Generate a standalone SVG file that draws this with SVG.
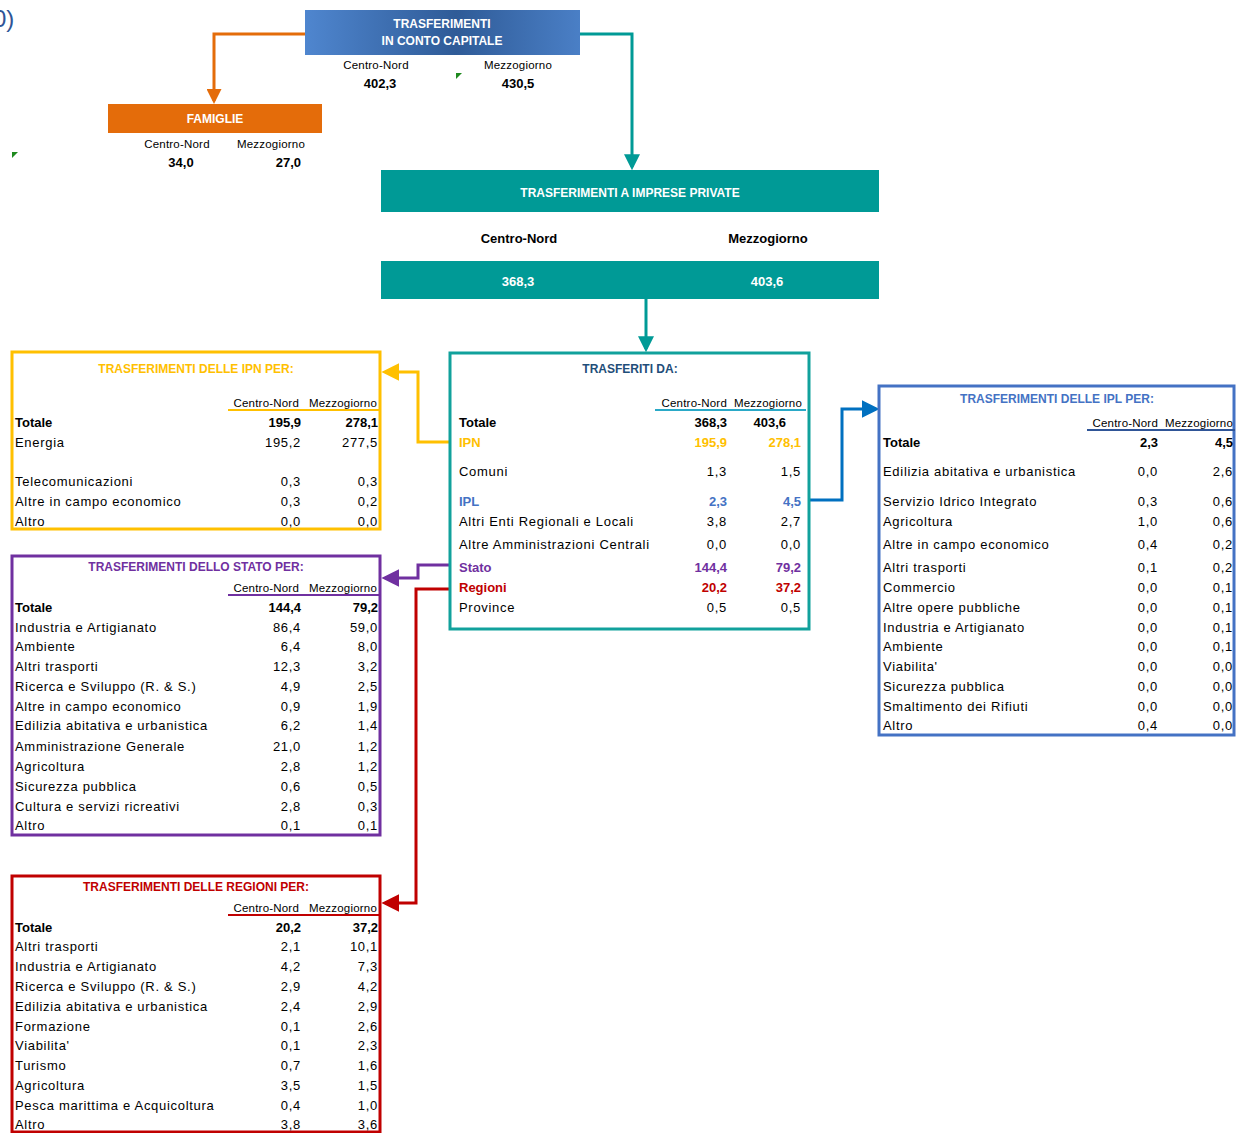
<svg xmlns="http://www.w3.org/2000/svg" width="1236" height="1133" viewBox="0 0 1236 1133">
<defs>
<style>
text{font-family:"Liberation Sans",Arial,sans-serif;font-size:13px;fill:#000;letter-spacing:0.7px}
.b{font-weight:bold;letter-spacing:0}
.w{fill:#fff;font-weight:bold;font-size:12px;letter-spacing:0}
.h{font-size:11.5px;letter-spacing:0.2px}
.r{text-anchor:end}
.c{text-anchor:middle}
.t{font-weight:bold;font-size:12px;text-anchor:middle;letter-spacing:0}
.yel{fill:#ffc000}
.pur{fill:#7030a0}
.red{fill:#c00000}
.blu{fill:#4472c4}
.nav{fill:#1f4e79}
.conn{fill:none;stroke-width:3;stroke-linejoin:miter}
.box{fill:#fff;stroke-width:3}
</style>
<linearGradient id="gblue" x1="0" y1="0" x2="1" y2="0">
<stop offset="0" stop-color="#4f86cf"/>
<stop offset="0.55" stop-color="#2f5b97"/>
<stop offset="1" stop-color="#4a7fc6"/>
</linearGradient>
<marker id="mo" viewBox="0 0 10 10" refX="8" refY="5" markerWidth="15" markerHeight="15" markerUnits="userSpaceOnUse" orient="auto"><path d="M0,0L10,5L0,10z" fill="#e46c0a"/></marker>
<marker id="mt" viewBox="0 0 10 10" refX="8" refY="5" markerWidth="16" markerHeight="16" markerUnits="userSpaceOnUse" orient="auto"><path d="M0,0L10,5L0,10z" fill="#009a96"/></marker>
<marker id="my" viewBox="0 0 10 10" refX="8" refY="5" markerWidth="18" markerHeight="18" markerUnits="userSpaceOnUse" orient="auto"><path d="M0,0L10,5L0,10z" fill="#ffc000"/></marker>
<marker id="mp" viewBox="0 0 10 10" refX="8" refY="5" markerWidth="18" markerHeight="18" markerUnits="userSpaceOnUse" orient="auto"><path d="M0,0L10,5L0,10z" fill="#7030a0"/></marker>
<marker id="mr" viewBox="0 0 10 10" refX="8" refY="5" markerWidth="18" markerHeight="18" markerUnits="userSpaceOnUse" orient="auto"><path d="M0,0L10,5L0,10z" fill="#c00000"/></marker>
<marker id="mb" viewBox="0 0 10 10" refX="8" refY="5" markerWidth="18" markerHeight="18" markerUnits="userSpaceOnUse" orient="auto"><path d="M0,0L10,5L0,10z" fill="#0070c0"/></marker>
</defs>
<rect width="1236" height="1133" fill="#fff"/>
<text x="-7" y="27" style="font-size:24px;fill:#2f5597;letter-spacing:0">0)</text>
<polygon points="456,73 462,73 456,79" fill="#1e8a1e"/>
<polygon points="12,152 18,152 12,158" fill="#1e8a1e"/>

<g id="connectors">
<path class="conn" stroke="#e46c0a" d="M305,34H214V101" marker-end="url(#mo)"/>
<path class="conn" stroke="#009a96" d="M580,34H632V167" marker-end="url(#mt)"/>
<path class="conn" stroke="#009a96" d="M646,299V349" marker-end="url(#mt)"/>
<path class="conn" stroke="#ffc000" d="M450,442H418V372H385" marker-end="url(#my)"/>
<path class="conn" stroke="#7030a0" d="M450,565H418V578H385" marker-end="url(#mp)"/>
<path class="conn" stroke="#c00000" d="M450,589H416V903H385" marker-end="url(#mr)"/>
<path class="conn" stroke="#0070c0" d="M809,500H842V409H876" marker-end="url(#mb)"/>
</g>

<g id="capitale">
<rect x="305" y="10" width="275" height="45" fill="url(#gblue)"/>
<text class="w c" x="442" y="28">TRASFERIMENTI</text>
<text class="w c" x="442" y="45">IN CONTO CAPITALE</text>
<text class="h c" x="376" y="69">Centro-Nord</text>
<text class="b c" x="380" y="88">402,3</text>
<text class="h c" x="518" y="69">Mezzogiorno</text>
<text class="b c" x="518" y="88">430,5</text>
</g>

<g id="famiglie">
<rect x="108" y="104" width="214" height="29" fill="#e46c0a"/>
<text class="w c" x="215" y="123">FAMIGLIE</text>
<text class="h c" x="177" y="148">Centro-Nord</text>
<text class="h c" x="271" y="148">Mezzogiorno</text>
<text class="b c" x="181" y="167">34,0</text>
<text class="b r" x="301" y="167">27,0</text>
</g>

<g id="imprese">
<rect x="381" y="170" width="498" height="42" fill="#009a96"/>
<text class="w c" x="630" y="197">TRASFERIMENTI A IMPRESE PRIVATE</text>
<text class="b c" x="519" y="243">Centro-Nord</text>
<text class="b c" x="768" y="243">Mezzogiorno</text>
<rect x="381" y="261" width="498" height="38" fill="#009a96"/>
<text class="w c" x="518" y="286" style="font-size:13px">368,3</text>
<text class="w c" x="767" y="286" style="font-size:13px">403,6</text>
</g>

<g id="trasferiti">
<rect class="box" x="450" y="353" width="359" height="276" stroke="#11a19c"/>
<text class="t nav" x="630" y="373">TRASFERITI DA:</text>
<text class="h r" x="727" y="407">Centro-Nord</text>
<text class="h r" x="802" y="407">Mezzogiorno</text>
<line x1="655" y1="410" x2="806" y2="410" stroke="#2aa9c7" stroke-width="2"/>
<text class="b" x="459" y="427">Totale</text><text class="b r" x="727" y="427">368,3</text><text class="b r" x="786" y="427">403,6</text>
<text class="b yel" x="459" y="447">IPN</text><text class="b r yel" x="727" y="447">195,9</text><text class="b r yel" x="801" y="447">278,1</text>
<text x="459" y="476">Comuni</text><text class="r" x="727" y="476">1,3</text><text class="r" x="801" y="476">1,5</text>
<text class="b blu" x="459" y="506">IPL</text><text class="b r blu" x="727" y="506">2,3</text><text class="b r blu" x="801" y="506">4,5</text>
<text x="459" y="526">Altri Enti Regionali e Locali</text><text class="r" x="727" y="526">3,8</text><text class="r" x="801" y="526">2,7</text>
<text x="459" y="549">Altre Amministrazioni Centrali</text><text class="r" x="727" y="549">0,0</text><text class="r" x="801" y="549">0,0</text>
<text class="b pur" x="459" y="572">Stato</text><text class="b r pur" x="727" y="572">144,4</text><text class="b r pur" x="801" y="572">79,2</text>
<text class="b red" x="459" y="592">Regioni</text><text class="b r red" x="727" y="592">20,2</text><text class="b r red" x="801" y="592">37,2</text>
<text x="459" y="612">Province</text><text class="r" x="727" y="612">0,5</text><text class="r" x="801" y="612">0,5</text>
</g>

<g id="ipn">
<rect class="box" x="12" y="352" width="368" height="177" stroke="#ffc000"/>
<text class="t yel" x="196" y="373">TRASFERIMENTI DELLE IPN PER:</text>
<text class="h r" x="299" y="407">Centro-Nord</text>
<text class="h r" x="377" y="407">Mezzogiorno</text>
<line x1="228" y1="410" x2="379" y2="410" stroke="#ffc000" stroke-width="2"/>
<text class="b" x="15" y="427">Totale</text><text class="b r" x="301" y="427">195,9</text><text class="b r" x="378" y="427">278,1</text>
<text x="15" y="447">Energia</text><text class="r" x="301" y="447">195,2</text><text class="r" x="378" y="447">277,5</text>
<text x="15" y="486">Telecomunicazioni</text><text class="r" x="301" y="486">0,3</text><text class="r" x="378" y="486">0,3</text>
<text x="15" y="506">Altre in campo economico</text><text class="r" x="301" y="506">0,3</text><text class="r" x="378" y="506">0,2</text>
<text x="15" y="526">Altro</text><text class="r" x="301" y="526">0,0</text><text class="r" x="378" y="526">0,0</text>
</g>

<g id="stato">
<rect class="box" x="12" y="556" width="368" height="279" stroke="#7030a0"/>
<text class="t pur" x="196" y="571">TRASFERIMENTI DELLO STATO PER:</text>
<text class="h r" x="299" y="592">Centro-Nord</text>
<text class="h r" x="377" y="592">Mezzogiorno</text>
<line x1="228" y1="595" x2="379" y2="595" stroke="#7030a0" stroke-width="2"/>
<text class="b" x="15" y="612">Totale</text><text class="b r" x="301" y="612">144,4</text><text class="b r" x="378" y="612">79,2</text>
<text x="15" y="632">Industria e Artigianato</text><text class="r" x="301" y="632">86,4</text><text class="r" x="378" y="632">59,0</text>
<text x="15" y="651">Ambiente</text><text class="r" x="301" y="651">6,4</text><text class="r" x="378" y="651">8,0</text>
<text x="15" y="671">Altri trasporti</text><text class="r" x="301" y="671">12,3</text><text class="r" x="378" y="671">3,2</text>
<text x="15" y="691">Ricerca e Sviluppo (R. &amp; S.)</text><text class="r" x="301" y="691">4,9</text><text class="r" x="378" y="691">2,5</text>
<text x="15" y="711">Altre in campo economico</text><text class="r" x="301" y="711">0,9</text><text class="r" x="378" y="711">1,9</text>
<text x="15" y="730">Edilizia abitativa e urbanistica</text><text class="r" x="301" y="730">6,2</text><text class="r" x="378" y="730">1,4</text>
<text x="15" y="751">Amministrazione Generale</text><text class="r" x="301" y="751">21,0</text><text class="r" x="378" y="751">1,2</text>
<text x="15" y="771">Agricoltura</text><text class="r" x="301" y="771">2,8</text><text class="r" x="378" y="771">1,2</text>
<text x="15" y="791">Sicurezza pubblica</text><text class="r" x="301" y="791">0,6</text><text class="r" x="378" y="791">0,5</text>
<text x="15" y="811">Cultura e servizi ricreativi</text><text class="r" x="301" y="811">2,8</text><text class="r" x="378" y="811">0,3</text>
<text x="15" y="830">Altro</text><text class="r" x="301" y="830">0,1</text><text class="r" x="378" y="830">0,1</text>
</g>

<g id="regioni">
<rect class="box" x="12" y="876" width="368" height="256" stroke="#c00000"/>
<text class="t red" x="196" y="891">TRASFERIMENTI DELLE REGIONI PER:</text>
<text class="h r" x="299" y="912">Centro-Nord</text>
<text class="h r" x="377" y="912">Mezzogiorno</text>
<line x1="228" y1="915" x2="379" y2="915" stroke="#c00000" stroke-width="2"/>
<text class="b" x="15" y="932">Totale</text><text class="b r" x="301" y="932">20,2</text><text class="b r" x="378" y="932">37,2</text>
<text x="15" y="951">Altri trasporti</text><text class="r" x="301" y="951">2,1</text><text class="r" x="378" y="951">10,1</text>
<text x="15" y="971">Industria e Artigianato</text><text class="r" x="301" y="971">4,2</text><text class="r" x="378" y="971">7,3</text>
<text x="15" y="991">Ricerca e Sviluppo (R. &amp; S.)</text><text class="r" x="301" y="991">2,9</text><text class="r" x="378" y="991">4,2</text>
<text x="15" y="1011">Edilizia abitativa e urbanistica</text><text class="r" x="301" y="1011">2,4</text><text class="r" x="378" y="1011">2,9</text>
<text x="15" y="1031">Formazione</text><text class="r" x="301" y="1031">0,1</text><text class="r" x="378" y="1031">2,6</text>
<text x="15" y="1050">Viabilita'</text><text class="r" x="301" y="1050">0,1</text><text class="r" x="378" y="1050">2,3</text>
<text x="15" y="1070">Turismo</text><text class="r" x="301" y="1070">0,7</text><text class="r" x="378" y="1070">1,6</text>
<text x="15" y="1090">Agricoltura</text><text class="r" x="301" y="1090">3,5</text><text class="r" x="378" y="1090">1,5</text>
<text x="15" y="1110">Pesca marittima e Acquicoltura</text><text class="r" x="301" y="1110">0,4</text><text class="r" x="378" y="1110">1,0</text>
<text x="15" y="1129">Altro</text><text class="r" x="301" y="1129">3,8</text><text class="r" x="378" y="1129">3,6</text>
</g>

<g id="ipl">
<rect class="box" x="879" y="386" width="355" height="349" stroke="#4472c4"/>
<text class="t blu" x="1057" y="403">TRASFERIMENTI DELLE IPL PER:</text>
<text class="h r" x="1158" y="427">Centro-Nord</text>
<text class="h r" x="1233" y="427">Mezzogiorno</text>
<line x1="1087" y1="430" x2="1235" y2="430" stroke="#2f5597" stroke-width="2"/>
<text class="b" x="883" y="447">Totale</text><text class="b r" x="1158" y="447">2,3</text><text class="b r" x="1233" y="447">4,5</text>
<text x="883" y="476">Edilizia abitativa e urbanistica</text><text class="r" x="1158" y="476">0,0</text><text class="r" x="1233" y="476">2,6</text>
<text x="883" y="506">Servizio Idrico Integrato</text><text class="r" x="1158" y="506">0,3</text><text class="r" x="1233" y="506">0,6</text>
<text x="883" y="526">Agricoltura</text><text class="r" x="1158" y="526">1,0</text><text class="r" x="1233" y="526">0,6</text>
<text x="883" y="549">Altre in campo economico</text><text class="r" x="1158" y="549">0,4</text><text class="r" x="1233" y="549">0,2</text>
<text x="883" y="572">Altri trasporti</text><text class="r" x="1158" y="572">0,1</text><text class="r" x="1233" y="572">0,2</text>
<text x="883" y="592">Commercio</text><text class="r" x="1158" y="592">0,0</text><text class="r" x="1233" y="592">0,1</text>
<text x="883" y="612">Altre opere pubbliche</text><text class="r" x="1158" y="612">0,0</text><text class="r" x="1233" y="612">0,1</text>
<text x="883" y="632">Industria e Artigianato</text><text class="r" x="1158" y="632">0,0</text><text class="r" x="1233" y="632">0,1</text>
<text x="883" y="651">Ambiente</text><text class="r" x="1158" y="651">0,0</text><text class="r" x="1233" y="651">0,1</text>
<text x="883" y="671">Viabilita'</text><text class="r" x="1158" y="671">0,0</text><text class="r" x="1233" y="671">0,0</text>
<text x="883" y="691">Sicurezza pubblica</text><text class="r" x="1158" y="691">0,0</text><text class="r" x="1233" y="691">0,0</text>
<text x="883" y="711">Smaltimento dei Rifiuti</text><text class="r" x="1158" y="711">0,0</text><text class="r" x="1233" y="711">0,0</text>
<text x="883" y="730">Altro</text><text class="r" x="1158" y="730">0,4</text><text class="r" x="1233" y="730">0,0</text>
</g>
</svg>
